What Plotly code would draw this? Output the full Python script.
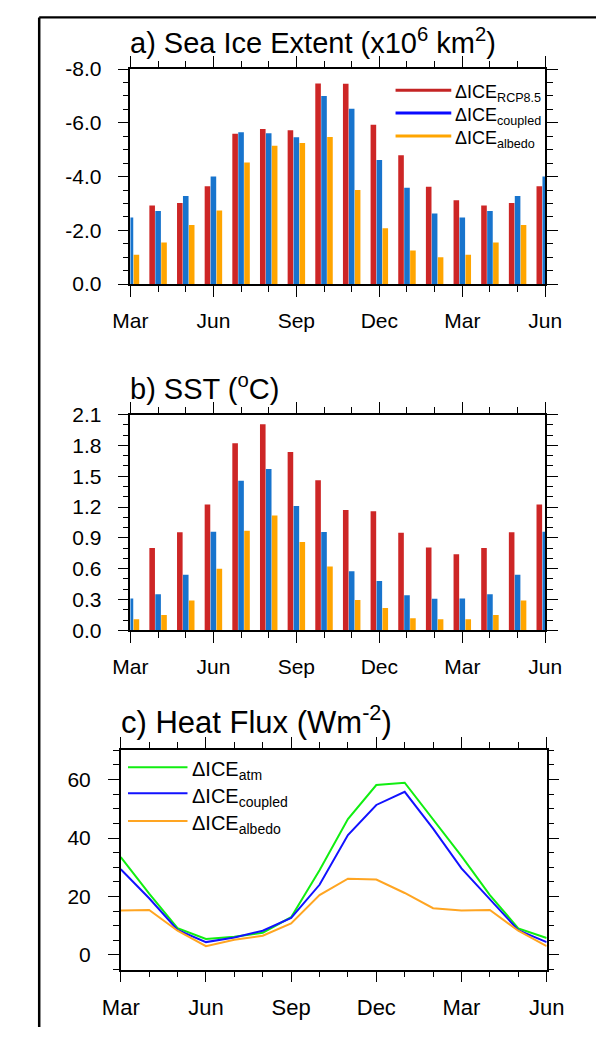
import plotly.graph_objects as go

W, H = 614, 1038

# ---------------- data ----------------
months = list(range(16))  # Mar (yr1) ... Jun (yr2)
month_tickvals = [0, 3, 6, 9, 12, 15]
month_ticktext = ["Mar", "Jun", "Sep", "Dec", "Mar", "Jun"]

ice_rcp85 = [-3.12, -2.92, -3.02, -3.64, -5.59, -5.77, -5.72, -7.46, -7.45, -5.93, -4.79, -3.62, -3.12, -2.92, -3.02, -3.64]
ice_coupled = [-2.48, -2.72, -3.28, -4.00, -5.65, -5.61, -5.46, -7.00, -6.52, -4.62, -3.58, -2.63, -2.48, -2.72, -3.28, -4.00]
ice_albedo = [-1.09, -1.55, -2.20, -2.74, -4.52, -5.15, -5.25, -5.47, -3.50, -2.08, -1.25, -1.00, -1.09, -1.55, -2.20, -2.74]
ice_tickvals = [0, -2, -4, -6, -8]
ice_ticktext = ["0.0", "-2.0", "-4.0", "-6.0", "-8.0"]

sst_rcp85 = [0.74, 0.80, 0.955, 1.225, 1.82, 2.005, 1.735, 1.46, 1.17, 1.16, 0.95, 0.806, 0.74, 0.80, 0.955, 1.225]
sst_coupled = [0.31, 0.35, 0.54, 0.96, 1.456, 1.57, 1.21, 0.958, 0.574, 0.48, 0.34, 0.308, 0.31, 0.35, 0.54, 0.96]
sst_albedo = [0.108, 0.15, 0.29, 0.60, 0.97, 1.117, 0.86, 0.62, 0.295, 0.216, 0.117, 0.108, 0.108, 0.15, 0.29, 0.60]
sst_tickvals = [0.0, 0.3, 0.6, 0.9, 1.2, 1.5, 1.8, 2.1]
sst_ticktext = ["0.0", "0.3", "0.6", "0.9", "1.2", "1.5", "1.8", "2.1"]

hf_atm = [33.5, 21.0, 9.2, 5.5, 6.2, 7.6, 12.9, 29.0, 46.5, 58.1, 58.9, 46.5, 33.8, 20.5, 9.1, 5.8]
hf_coupled = [29.3, 19.4, 8.6, 4.4, 6.0, 8.3, 12.7, 24.0, 41.0, 51.3, 55.8, 43.2, 29.6, 19.2, 8.5, 4.4]
hf_albedo = [15.2, 15.4, 8.3, 3.0, 5.2, 6.6, 10.8, 20.5, 26.1, 25.8, 21.2, 16.0, 15.2, 15.4, 8.3, 3.0]
hf_tickvals = [0, 20, 40, 60]

# ---------------- styles ----------------
FONT = "Liberation Sans, Arial, Helvetica, sans-serif"
RED_BAR, BLUE_BAR, ORANGE_BAR = "#CD2626", "#1874CD", "#FFA500"
RED_LEG, BLUE_LEG, ORANGE_LEG = "#C42424", "#0A0AFF", "#FFA500"
GREEN_L, BLUE_L, ORANGE_L = "#11EE11", "#1212FF", "#FFA522"


def fx(x):
    return x / W


def fy(y):
    return 1 - y / H


fig = go.Figure()

for vals, col, name in [(ice_rcp85, RED_BAR, "RCP8.5"), (ice_coupled, BLUE_BAR, "coupled"), (ice_albedo, ORANGE_BAR, "albedo")]:
    fig.add_trace(go.Bar(x=months, y=vals, marker=dict(color=col, line=dict(width=0)),
                         name=name, showlegend=False, xaxis="x", yaxis="y"))
for vals, col, name in [(sst_rcp85, RED_BAR, "RCP8.5"), (sst_coupled, BLUE_BAR, "coupled"), (sst_albedo, ORANGE_BAR, "albedo")]:
    fig.add_trace(go.Bar(x=months, y=vals, marker=dict(color=col, line=dict(width=0)),
                         name=name, showlegend=False, xaxis="x2", yaxis="y2"))
for vals, col, name in [(hf_atm, GREEN_L, "atm"), (hf_coupled, BLUE_L, "coupled"), (hf_albedo, ORANGE_L, "albedo")]:
    fig.add_trace(go.Scatter(x=months, y=vals, mode="lines", line=dict(color=col, width=2),
                             name=name, showlegend=False, xaxis="x3", yaxis="y3"))

common_axis = dict(showline=True, linecolor="black", linewidth=1.6, mirror="allticks",
                   ticks="outside", tickcolor="black", tickwidth=1.4, showgrid=False, zeroline=False,
                   fixedrange=True)


def xaxis(domain, anchor, size):
    return dict(common_axis, domain=domain, anchor=anchor, range=[0, 15], tickmode="array",
                tickvals=month_tickvals, ticktext=month_ticktext, ticklen=11,
                tickfont=dict(family=FONT, size=size, color="black"), ticklabelstandoff=6,
                minor=dict(dtick=1, tick0=0, ticklen=6, tickwidth=1.2, tickcolor="black", ticks="outside"))


fig.update_layout(
    width=W, height=H, margin=dict(l=0, r=0, t=0, b=0),
    paper_bgcolor="white", plot_bgcolor="white",
    barmode="group", bargap=0.355, bargroupgap=0.06,
    xaxis=xaxis([fx(118.6), fx(560)], "y", 21),
    yaxis=dict(common_axis, domain=[fy(278.3), fy(58.3)], anchor="x", range=[0, -8],
               tickmode="array", tickvals=ice_tickvals, ticktext=ice_ticktext, ticklen=11,
               tickfont=dict(family=FONT, size=21, color="black"), ticklabelstandoff=12,
               minor=dict(dtick=0.5, tick0=0, ticklen=6, tickwidth=1.2, tickcolor="black", ticks="outside")),
    xaxis2=xaxis([fx(118.6), fx(560)], "y2", 21),
    yaxis2=dict(common_axis, domain=[fy(632.3), fy(411.7)], anchor="x2", range=[0, 2.1],
                tickmode="array", tickvals=sst_tickvals, ticktext=sst_ticktext, ticklen=11,
                tickfont=dict(family=FONT, size=21, color="black"), ticklabelstandoff=12,
                minor=dict(dtick=0.1, tick0=0, ticklen=6, tickwidth=1.2, tickcolor="black", ticks="outside")),
    xaxis3=xaxis([fx(108.3), fx(561.5)], "y3", 22),
    yaxis3=dict(common_axis, domain=[fy(979.3), fy(755)], anchor="x3", range=[-5, 70],
                tickmode="array", tickvals=hf_tickvals, ticklen=11,
                tickfont=dict(family=FONT, size=21, color="black"), ticklabelstandoff=13,
                minor=dict(dtick=5, tick0=0, ticklen=6, tickwidth=1.2, tickcolor="black", ticks="outside")),
)

# outer frame (left and top edges of the figure box)
fig.add_shape(type="line", xref="paper", yref="paper", x0=fx(21.5), x1=fx(21.5), y0=0, y1=fy(5.5),
              line=dict(color="black", width=2.5))
fig.add_shape(type="line", xref="paper", yref="paper", x0=fx(21.5), x1=1, y0=fy(5.5), y1=fy(5.5),
              line=dict(color="black", width=2.2))

# titles
titles = [
    ("a) Sea Ice Extent (x10<sup>6</sup> km<sup>2</sup>)", 116.5, 30, 29),
    ("b) SST (<sup>o</sup>C)", 116.5, 384, 29),
    ("c) Heat Flux (Wm<sup>-2</sup>)", 106.5, 724, 31),
]
for txt, x, y, s in titles:
    fig.add_annotation(text=txt, xref="paper", yref="paper", x=fx(x), y=fy(y), xanchor="left",
                       yanchor="middle", showarrow=False, font=dict(family=FONT, size=s, color="black"))

# legends
legend_a = [("RCP8.5", RED_LEG, 80), ("coupled", BLUE_LEG, 103.3), ("albedo", ORANGE_LEG, 126.7)]
for sub, col, y in legend_a:
    fig.add_shape(type="line", xref="paper", yref="paper", x0=fx(400.7), x1=fx(460), y0=fy(y), y1=fy(y),
                  line=dict(color=col, width=3))
    fig.add_annotation(text="ΔICE<sub>" + sub + "</sub>", xref="paper", yref="paper", x=fx(461.5), y=fy(y + 3.5),
                       xanchor="left", yanchor="middle", showarrow=False,
                       font=dict(family=FONT, size=18, color="black"))

legend_c = [("atm", GREEN_L, 772.3), ("coupled", BLUE_L, 799), ("albedo", ORANGE_L, 827.3)]
for sub, col, y in legend_c:
    fig.add_shape(type="line", xref="paper", yref="paper", x0=fx(116), x1=fx(179.3), y0=fy(y), y1=fy(y),
                  line=dict(color=col, width=2))
    fig.add_annotation(text="ΔICE<sub>" + sub + "</sub>", xref="paper", yref="paper", x=fx(181.5), y=fy(y + 3.8),
                       xanchor="left", yanchor="middle", showarrow=False,
                       font=dict(family=FONT, size=20, color="black"))

fig.write_html("out.html",
               post_script="document.body.style.margin='0px';document.body.style.padding='0px';"
                           "document.documentElement.style.overflow='hidden';")
